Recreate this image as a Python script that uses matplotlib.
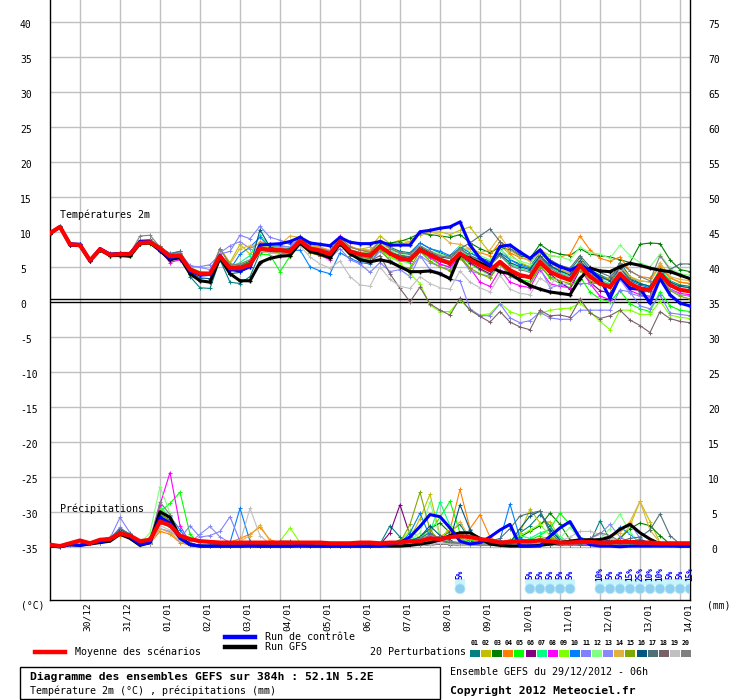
import numpy as np
import matplotlib
matplotlib.use('Agg')
import matplotlib.pyplot as plt
from matplotlib.patches import Rectangle, Ellipse
from matplotlib.lines import Line2D
from matplotlib.transforms import blended_transform_factory

# ---------------- data ----------------
hours = np.arange(0, 385, 6)  # 29/12/2012 06h + 0..384h

date_labels = ["30/12", "31/12", "01/01", "02/01", "03/01", "04/01", "05/01", "06/01",
               "07/01", "08/01", "09/01", "10/01", "11/01", "12/01", "13/01", "14/01"]
left_ticks = [-35, -30, -25, -20, -15, -10, -5, 0, 5, 10, 15, 20, 25, 30, 35, 40]
right_ticks = [0, 5, 10, 15, 20, 25, 30, 35, 40, 45, 50, 55, 60, 65, 70, 75]

member_names = ["01", "02", "03", "04", "05", "06", "07", "08", "09", "10",
                "11", "12", "13", "14", "15", "16", "17", "18", "19", "20"]
member_colors = ["#008080", "#c0c000", "#008000", "#ff8000", "#00ff00", "#800080", "#00ff80",
                 "#ff00ff", "#80ff00", "#0080ff", "#8080ff", "#80ff80", "#8888f8", "#e0b040",
                 "#80a800", "#005880", "#507078", "#786068", "#c0c0c0", "#808080"]

# temperature 2m (deg C)
temp_mean = [9.8, 10.7, 8.2, 8.1, 5.9, 7.5, 6.7, 6.8, 6.8, 8.4, 8.5, 7.6, 6.5, 6.6,
             4.6, 4.0, 4.0, 6.5, 4.8, 4.8, 5.3, 7.6, 7.4, 7.4, 7.2, 8.7, 7.6, 7.3, 6.8, 8.6, 7.2, 6.8, 6.6,
             7.9, 6.9, 6.2, 6.0, 7.4, 6.7, 6.0, 5.5, 6.9, 6.0, 5.2, 4.5, 5.7, 4.5, 3.8, 3.5,
             5.7, 4.3, 3.6, 3.1, 5.2, 3.6, 2.6, 2.1, 4.0, 2.6, 1.9, 1.7, 4.0, 2.4, 1.7, 1.5]
temp_control = [9.8, 10.7, 8.3, 8.2, 5.9, 7.6, 6.8, 6.9, 6.9, 8.6, 8.6, 7.4, 6.3, 6.5,
                4.4, 3.8, 3.9, 6.6, 4.6, 4.4, 5.0, 8.1, 8.2, 8.3, 8.6, 9.2, 8.4, 8.2, 8.0, 9.2, 8.5, 8.3, 8.3,
                8.6, 8.1, 8.1, 8.1, 10.0, 10.2, 10.5, 10.7, 11.4, 8.1, 6.2, 5.2, 7.9, 8.1, 7.1, 6.2,
                7.4, 5.7, 5.0, 4.5, 5.2, 4.5, 3.3, 0.5, 3.6, 1.9, 1.9, -0.2, 3.3, 1.0, -0.2, -0.6]
temp_gfs = [9.7, 10.7, 8.1, 8.0, 5.8, 7.4, 6.6, 6.6, 6.5, 8.3, 8.4, 7.3, 6.0, 6.3,
            4.0, 3.0, 2.8, 6.3, 4.0, 3.0, 3.0, 5.6, 6.2, 6.5, 6.6, 8.4, 7.2, 6.8, 6.3, 8.3, 6.9, 6.0, 5.7,
            6.0, 5.7, 5.0, 4.3, 4.3, 4.4, 4.0, 3.3, 6.7, 6.2, 5.5, 5.0, 4.3, 4.0, 3.1, 2.3,
            1.8, 1.4, 1.2, 1.0, 3.3, 4.8, 4.4, 4.3, 5.0, 5.5, 5.2, 4.8, 4.5, 4.3, 3.8, 3.3]

temp_p01 = [9.9, 10.8, 8.3, 8.0, 5.8, 7.6, 6.9, 7.0, 7.0, 8.6, 8.7, 7.5, 6.9, 7.2,
            3.6, 2.0, 1.9, 6.0, 2.8, 2.6, 3.6, 7.0, 7.4, 7.6, 7.5, 8.9, 7.8, 7.6, 7.0, 8.8, 7.8, 7.4, 7.2,
            8.6, 7.8, 7.2, 7.0, 8.4, 7.6, 7.0, 6.4, 7.8, 7.0, 6.3, 5.8, 7.0, 6.0, 5.4, 5.0,
            7.0, 5.6, 5.0, 4.5, 6.3, 4.6, 3.8, 3.2, 5.6, 3.6, 2.6, 2.2, 4.6, 3.0, 2.4, 2.2]
temp_p02 = [9.8, 10.7, 8.2, 8.2, 6.0, 7.6, 6.8, 6.9, 6.9, 8.6, 8.7, 7.8, 6.7, 6.9,
            4.9, 4.3, 4.2, 7.6, 5.6, 8.2, 6.8, 8.0, 7.9, 7.8, 7.6, 9.0, 8.0, 7.7, 7.3, 9.0, 7.8, 7.5, 7.8,
            9.4, 8.3, 8.8, 8.6, 9.6, 9.9, 10.0, 9.6, 10.2, 10.7, 8.8, 7.0, 8.0, 6.8, 5.6, 5.0,
            6.5, 5.0, 4.6, 4.2, 5.6, 4.2, 3.6, 3.2, 5.0, 3.6, 3.0, 2.8, 5.2, 3.4, 2.8, 2.6]
temp_p03 = [9.7, 10.6, 8.1, 8.1, 5.9, 7.4, 6.7, 6.8, 6.8, 8.2, 8.4, 7.6, 6.4, 6.6,
            4.7, 4.2, 4.1, 6.6, 5.0, 5.2, 5.8, 7.8, 7.6, 7.5, 7.4, 8.8, 7.7, 7.4, 6.9, 8.7, 7.4, 7.0, 6.9,
            8.3, 8.4, 8.6, 9.1, 9.8, 9.6, 9.4, 9.2, 9.6, 8.4, 7.6, 7.0, 7.8, 7.4, 6.6, 6.2,
            8.2, 7.2, 6.8, 6.6, 7.6, 6.8, 6.6, 6.4, 6.0, 5.6, 8.2, 8.4, 8.3, 6.0, 4.6, 4.3]
temp_p04 = [9.8, 10.7, 8.2, 8.1, 5.9, 7.5, 6.7, 6.8, 6.9, 8.5, 8.6, 7.7, 6.6, 6.7,
            4.5, 3.9, 3.8, 6.4, 4.7, 5.0, 5.4, 8.6, 8.2, 8.3, 8.7, 9.2, 8.2, 7.8, 7.2, 9.1, 7.9, 7.4, 7.2,
            8.4, 7.6, 7.0, 6.8, 7.8, 7.1, 6.6, 6.2, 7.4, 7.6, 7.0, 6.6, 8.6, 7.0, 6.3, 6.0,
            7.4, 6.6, 6.4, 6.8, 9.4, 7.4, 6.2, 5.8, 6.4, 4.4, 3.6, 3.4, 5.0, 3.4, 2.8, 2.6]
temp_p05 = [9.8, 10.7, 8.1, 8.0, 5.8, 7.4, 6.6, 6.7, 6.6, 8.2, 8.3, 7.3, 6.2, 6.4,
            4.4, 3.8, 3.8, 6.3, 4.6, 4.9, 5.6, 6.8, 6.7, 4.3, 6.5, 8.4, 7.2, 6.9, 6.2, 8.2, 6.6, 6.2, 6.0,
            7.6, 6.4, 5.8, 5.6, 7.2, 6.2, 5.3, 5.0, 6.4, 5.4, 4.6, 3.8, 5.4, 4.0, 3.2, 2.9,
            5.2, 3.4, 2.6, 2.0, 3.6, 1.4, 0.4, 0.0, 1.6, -0.3, -1.0, -1.4, 1.4, -0.6, -1.2, -1.4]
temp_p06 = [9.8, 10.7, 8.2, 8.1, 5.9, 7.5, 6.7, 6.8, 6.8, 8.4, 8.5, 7.6, 6.5, 6.6,
            4.5, 3.9, 3.9, 6.5, 4.7, 4.7, 5.2, 7.4, 7.2, 7.2, 7.0, 8.6, 7.3, 6.6, 6.2, 8.4, 6.8, 6.4, 6.2,
            7.6, 6.7, 6.0, 5.8, 7.3, 6.5, 5.8, 5.3, 6.6, 5.6, 4.7, 4.0, 5.5, 4.2, 3.6, 3.4,
            5.4, 4.0, 2.8, 1.8, 4.6, 2.8, 1.6, 1.2, 3.6, 1.8, 1.6, 1.4, 3.8, 2.4, 1.8, 1.6]
temp_p07 = [9.8, 10.7, 8.2, 8.1, 5.9, 7.5, 6.8, 6.9, 6.9, 8.5, 8.6, 7.6, 6.5, 6.6,
            4.6, 4.0, 4.1, 6.6, 5.0, 5.6, 6.6, 9.5, 8.0, 8.0, 7.8, 9.0, 7.8, 7.2, 6.8, 8.6, 7.2, 6.9, 6.6,
            8.0, 7.2, 6.6, 6.4, 7.6, 6.8, 6.2, 5.8, 7.4, 6.4, 5.8, 5.2, 6.6, 5.4, 4.8, 4.4,
            6.4, 5.0, 4.2, 3.6, 5.6, 4.0, 3.2, 2.6, 4.8, 3.2, 2.6, 2.2, 4.6, 3.0, 2.2, 2.0]
temp_p08 = [9.8, 10.7, 8.2, 8.0, 5.8, 7.4, 6.7, 6.7, 6.7, 8.4, 8.5, 7.3, 5.6, 6.0,
            4.4, 3.9, 3.9, 6.4, 4.6, 4.6, 5.0, 7.2, 7.0, 7.0, 6.8, 8.2, 7.0, 6.6, 6.0, 9.4, 7.2, 6.6, 6.5,
            8.2, 6.8, 6.0, 5.8, 7.6, 6.4, 5.4, 4.9, 6.4, 4.8, 2.8, 2.2, 4.6, 2.8, 2.3, 2.0,
            4.6, 2.6, 2.2, 2.0, 5.0, 2.6, 0.8, 0.3, 3.4, 1.6, 1.0, 0.8, 3.2, 1.8, 1.2, 1.0]
temp_p09 = [9.8, 10.6, 8.1, 8.0, 5.8, 7.4, 6.6, 6.7, 6.7, 8.3, 8.4, 7.5, 6.4, 6.5,
            4.6, 4.0, 4.0, 6.6, 4.9, 5.0, 5.4, 7.2, 7.0, 6.8, 6.6, 8.2, 7.0, 6.7, 6.4, 8.2, 6.8, 6.5, 6.4,
            7.8, 6.4, 5.6, 4.0, 2.6, -0.5, -1.4, -1.4, 0.3, -1.2, -1.9, -1.7, -0.2, -1.4, -1.9, -1.6,
            -1.7, -1.2, -1.0, -0.9, -0.2, -1.4, -2.8, -4.0, -1.2, -1.2, -1.8, -1.8, 0.1, -1.9, -2.2, -2.4]
temp_p10 = [9.8, 10.7, 8.2, 8.1, 5.9, 7.5, 6.7, 6.8, 6.8, 8.4, 8.5, 7.4, 6.4, 6.7,
            4.6, 4.0, 4.0, 6.5, 4.6, 6.8, 7.8, 9.2, 7.8, 7.8, 7.2, 7.4, 5.0, 4.4, 4.0, 7.0, 6.2, 5.6, 5.4,
            7.6, 7.4, 7.0, 6.8, 8.4, 7.6, 7.2, 6.6, 8.0, 7.0, 6.2, 5.6, 7.6, 6.0, 5.2, 4.8,
            6.4, 5.0, 4.4, 4.0, 5.4, 4.0, 3.4, 3.0, 4.6, 3.0, 2.4, 2.0, 4.2, 2.4, 1.8, 1.6]
temp_p11 = [9.8, 10.7, 8.2, 8.1, 6.0, 7.6, 6.8, 6.9, 6.9, 8.5, 8.6, 7.8, 6.9, 7.0,
            5.0, 5.0, 5.3, 6.8, 7.2, 9.5, 9.0, 10.8, 9.2, 8.8, 8.2, 8.8, 7.4, 6.8, 6.2, 7.6, 6.0, 5.4, 4.2,
            5.6, 4.3, 4.6, 3.6, 6.6, 4.6, 4.2, 3.2, 3.0, -1.0, -2.0, -2.0, -0.3, -2.3, -3.0, -2.7,
            -1.5, -2.3, -2.5, -2.5, -1.2, -1.2, -1.2, -1.2, 1.7, 1.4, -0.6, -1.0, 1.0, -1.6, -1.8, -2.0]
temp_p12 = [9.8, 10.7, 8.2, 8.1, 5.9, 7.5, 6.7, 6.8, 6.8, 8.4, 8.5, 7.6, 6.6, 6.7,
            4.7, 4.1, 4.1, 6.6, 4.9, 5.4, 6.0, 7.8, 7.6, 7.7, 7.6, 8.9, 7.8, 7.5, 7.0, 8.7, 7.4, 7.1, 7.0,
            8.4, 7.4, 6.8, 6.6, 8.0, 7.3, 6.8, 6.4, 8.0, 7.2, 6.6, 6.0, 7.4, 6.4, 5.8, 5.4,
            7.2, 6.6, 6.4, 6.0, 7.8, 7.0, 6.8, 6.2, 8.1, 6.6, 5.6, 5.0, 6.8, 4.8, 4.0, 3.8]
temp_p13 = [9.8, 10.7, 8.2, 8.1, 5.9, 7.6, 6.8, 6.9, 6.9, 8.5, 8.6, 7.7, 6.8, 6.9,
            5.2, 4.9, 4.6, 7.0, 8.0, 8.6, 7.6, 8.4, 8.2, 8.0, 7.8, 9.0, 7.6, 7.0, 6.6, 8.4, 7.0, 6.2, 5.6,
            7.2, 6.0, 5.0, 4.6, 6.6, 5.6, 5.0, 4.6, 6.4, 4.4, 4.0, 3.6, 5.4, 3.6, 3.0, 2.6,
            4.8, 2.0, 2.4, 2.6, 2.6, 2.6, 2.6, 2.6, 3.2, 1.2, 0.8, 0.6, 3.6, 1.8, 1.0, 0.8]
temp_p14 = [9.8, 10.7, 8.2, 8.1, 5.9, 7.5, 6.7, 6.9, 6.9, 8.7, 8.8, 7.9, 6.6, 6.7,
            4.6, 4.0, 4.0, 6.5, 5.4, 7.6, 8.0, 8.2, 8.0, 8.2, 9.4, 9.2, 8.0, 7.8, 7.4, 9.0, 7.8, 7.5, 7.4,
            8.6, 7.8, 8.2, 8.6, 9.8, 10.0, 9.6, 8.4, 8.2, 7.6, 7.0, 7.4, 9.4, 7.4, 6.4, 5.8,
            7.0, 5.6, 4.6, 4.0, 6.0, 4.2, 3.4, 3.0, 5.2, 3.4, 3.0, 2.8, 5.6, 3.6, 3.2, 3.0]
temp_p15 = [9.8, 10.7, 8.2, 8.1, 5.9, 7.5, 6.7, 6.8, 6.7, 8.4, 8.5, 7.5, 6.4, 6.6,
            4.5, 3.9, 3.8, 7.6, 5.4, 5.2, 5.6, 7.4, 7.2, 7.0, 6.8, 8.4, 7.0, 6.6, 6.3, 8.4, 6.8, 6.4, 6.2,
            7.6, 5.8, 5.0, 4.8, 7.2, 5.8, 5.0, 4.4, 6.2, 4.8, 4.0, 3.4, 5.4, 3.8, 3.0, 2.6,
            5.0, 3.6, 3.0, 2.6, 4.6, 3.0, 2.4, 2.0, 4.2, 2.4, 1.8, 1.4, 3.6, 1.6, 0.8, 0.4]
temp_p16 = [9.7, 10.6, 8.1, 8.0, 5.8, 7.4, 6.6, 6.7, 6.7, 8.3, 8.4, 7.4, 6.3, 6.5,
            4.2, 3.4, 3.3, 6.2, 4.0, 4.2, 5.0, 10.3, 7.8, 7.4, 7.6, 8.8, 7.6, 7.2, 6.8, 8.6, 7.2, 6.8, 6.6,
            8.0, 7.0, 6.6, 6.4, 7.8, 7.0, 6.4, 6.2, 7.6, 6.6, 6.0, 5.4, 6.8, 5.6, 5.0, 4.6,
            6.6, 5.2, 4.4, 3.8, 5.8, 4.4, 3.6, 3.0, 4.8, 3.2, 2.6, 2.2, 4.4, 2.8, 2.2, 2.0]
temp_p17 = [9.8, 10.7, 8.2, 8.2, 6.0, 7.6, 6.8, 7.0, 7.0, 8.8, 8.9, 7.9, 6.8, 7.2,
            4.8, 4.2, 4.1, 6.6, 5.0, 5.2, 5.6, 7.6, 7.4, 7.4, 7.2, 8.6, 7.4, 7.0, 6.6, 8.4, 7.0, 6.6, 6.4,
            7.8, 7.0, 6.6, 6.4, 7.6, 6.8, 6.4, 6.6, 7.6, 8.4, 9.4, 10.4, 8.6, 7.6, 6.8, 6.2,
            7.2, 6.0, 5.2, 4.8, 6.6, 5.0, 4.2, 3.6, 4.8, 3.2, 1.2, 1.6, 3.8, 4.6, 5.4, 5.4]
temp_p18 = [9.8, 10.7, 8.2, 8.1, 5.9, 7.5, 6.7, 6.8, 6.8, 8.4, 8.5, 7.6, 6.5, 6.6,
            4.5, 3.9, 3.9, 6.4, 4.7, 4.7, 5.2, 7.4, 7.2, 7.2, 7.0, 8.6, 7.2, 6.8, 6.4, 8.2, 6.6, 6.2, 5.8,
            6.6, 4.0, 1.9, 0.0, 2.1, -0.3, -1.2, -1.9, 0.5, -1.2, -2.1, -2.9, -1.4, -2.9, -3.6, -4.0,
            -1.2, -2.0, -1.9, -2.2, 0.4, -1.6, -2.4, -2.0, -1.2, -2.6, -3.4, -4.4, -1.4, -2.4, -2.8, -3.0]
temp_p19 = [9.8, 10.7, 8.2, 8.1, 5.9, 7.5, 6.8, 6.9, 6.9, 8.6, 8.7, 7.7, 6.5, 6.6,
            4.6, 4.0, 4.0, 6.5, 4.6, 4.6, 5.2, 7.2, 7.0, 6.8, 6.6, 8.0, 6.4, 5.4, 4.8, 5.8, 3.6, 2.4, 2.2,
            5.0, 3.2, 2.2, 1.9, 3.6, 2.6, 2.0, 1.8, 4.4, 2.8, 2.0, 1.4, 3.8, 1.8, 1.2, 1.0,
            3.4, 2.4, 3.8, 3.6, 4.8, 3.4, 2.6, 2.2, 4.6, 2.8, 2.0, 1.8, 4.2, 2.4, 1.8, 1.4]
temp_p20 = [9.8, 10.8, 8.3, 8.2, 6.0, 7.6, 6.8, 6.9, 6.9, 9.4, 9.5, 7.8, 6.6, 6.8,
            4.8, 4.2, 4.2, 7.6, 5.2, 5.4, 6.0, 7.6, 7.4, 7.4, 7.2, 9.4, 7.8, 7.6, 7.2, 9.2, 7.8, 7.4, 7.0,
            8.8, 7.6, 7.0, 6.8, 8.0, 7.2, 6.6, 6.2, 7.6, 6.6, 5.8, 5.2, 6.6, 5.2, 4.6, 4.2,
            6.2, 4.8, 4.0, 3.4, 5.6, 4.0, 3.0, 2.4, 5.6, 4.4, 3.6, 3.0, 6.6, 4.6, 3.8, 3.4]

# precipitation (mm per 6h)
prec_mean = [0.3, 0.1, 0.5, 0.9, 0.5, 1.0, 1.1, 1.9, 1.6, 0.8, 1.0, 3.6, 3.1, 1.6, 1.1, 0.8,
             0.7, 0.6, 0.6, 0.6, 0.6, 0.6, 0.6, 0.6, 0.6, 0.6, 0.6, 0.6, 0.5, 0.5, 0.5, 0.6, 0.6,
             0.5, 0.6, 0.6, 0.8, 0.8, 1.2, 1.1, 1.4, 1.5, 1.4, 1.1, 0.9, 0.6, 0.7, 0.8, 0.8,
             0.9, 0.8, 0.6, 0.6, 0.7, 0.7, 0.6, 0.6, 0.7, 0.7, 0.6, 0.6, 0.5, 0.5, 0.5, 0.5]
prec_control = [0.1, 0.0, 0.3, 0.2, 0.5, 0.7, 1.0, 2.0, 1.4, 0.3, 0.6, 4.2, 3.4, 1.2, 0.3, 0.1,
                0.1, 0.1, 0.1, 0.1, 0.2, 0.1, 0.1, 0.1, 0.1, 0.2, 0.1, 0.1, 0.1, 0.1, 0.1, 0.1, 0.1,
                0.1, 0.3, 0.6, 1.4, 2.9, 4.6, 4.3, 2.7, 0.8, 0.4, 0.6, 1.4, 2.4, 3.2, 0.1, 0.1,
                0.1, 1.5, 2.7, 3.6, 1.2, 0.3, 0.1, 0.1, 0.0, 0.1, 0.1, 0.1, 0.1, 0.1, 0.1, 0.1]
prec_gfs = [0.1, 0.0, 0.3, 0.2, 0.4, 0.6, 0.8, 1.8, 1.2, 0.2, 0.6, 5.0, 4.2, 1.4, 0.3, 0.1,
            0.1, 0.1, 0.1, 0.1, 0.1, 0.1, 0.1, 0.1, 0.1, 0.1, 0.1, 0.1, 0.1, 0.1, 0.1, 0.1, 0.1,
            0.1, 0.1, 0.1, 0.2, 0.4, 0.6, 1.0, 1.6, 2.0, 2.0, 1.2, 0.4, 0.2, 0.1, 0.1, 0.1,
            0.2, 0.4, 0.6, 0.8, 1.0, 1.0, 1.0, 1.4, 2.5, 3.2, 2.0, 1.1, 0.4, 0.2, 0.1, 0.1]

prec_p01 = [0.1, 0.0, 0.5, 0.2, 0.6, 0.8, 1.2, 2.6, 1.8, 0.3, 0.4, 4.0, 3.2, 1.2, 0.3, 0.1,
            0.1, 0.2, 0.1, 0.1, 0.3, 0.1, 0.2, 0.2, 0.1, 0.2, 0.1, 0.1, 0.2, 0.1, 0.1, 0.2, 0.2,
            0.4, 3.0, 1.4, 0.2, 0.4, 0.6, 1.2, 2.2, 3.2, 1.0, 0.4, 0.2, 0.3, 0.6, 2.0, 3.0,
            4.6, 3.0, 1.0, 0.4, 0.6, 0.6, 3.7, 1.0, 0.4, 0.6, 0.2, 0.3, 0.2, 0.4, 0.1, 0.5]
prec_p02 = [0.1, 0.0, 0.4, 0.2, 0.5, 0.6, 0.9, 2.2, 1.4, 0.2, 0.6, 5.5, 4.0, 1.4, 0.4, 0.1,
            0.1, 0.1, 0.2, 0.1, 0.1, 0.4, 0.2, 0.1, 0.1, 0.3, 0.1, 0.1, 0.2, 0.2, 0.1, 0.1, 0.1,
            0.2, 0.3, 0.6, 1.2, 4.0, 7.5, 1.6, 0.4, 0.6, 1.2, 0.4, 0.2, 0.6, 0.8, 2.0, 5.4,
            3.4, 3.6, 1.2, 0.5, 0.6, 0.4, 0.2, 0.6, 1.2, 3.0, 6.5, 3.6, 0.6, 0.2, 0.3, 0.2]
prec_p03 = [0.1, 0.0, 0.4, 0.2, 0.6, 0.7, 1.1, 2.0, 1.3, 0.3, 0.8, 4.6, 3.8, 1.6, 0.4, 0.2,
            0.1, 0.1, 0.1, 0.2, 0.3, 0.1, 0.1, 0.2, 0.1, 0.1, 0.2, 0.1, 0.1, 0.2, 0.1, 0.1, 0.1,
            0.2, 0.4, 1.0, 0.5, 1.4, 2.6, 3.4, 2.0, 1.2, 0.8, 0.4, 0.2, 0.2, 0.6, 1.4, 2.2,
            3.0, 4.8, 3.2, 1.0, 0.6, 0.4, 0.2, 0.6, 1.2, 2.6, 3.4, 3.0, 1.6, 0.4, 0.2, 0.2]
prec_p04 = [0.1, 0.0, 0.3, 0.2, 0.6, 0.7, 1.0, 1.6, 1.2, 0.3, 0.5, 2.2, 1.8, 0.6, 0.2, 0.1,
            0.2, 0.4, 0.6, 1.2, 1.8, 2.8, 1.0, 0.6, 0.2, 0.1, 0.2, 0.1, 0.1, 0.2, 0.1, 0.1, 0.2,
            0.3, 0.2, 0.4, 0.8, 1.2, 1.0, 1.4, 2.4, 8.2, 2.6, 4.6, 1.4, 0.4, 0.3, 0.6, 0.4,
            0.8, 1.2, 0.8, 0.4, 0.6, 0.8, 0.6, 1.2, 0.8, 0.6, 1.0, 0.4, 0.2, 0.3, 0.2, 0.2]
prec_p05 = [0.1, 0.0, 0.4, 0.3, 0.6, 0.8, 1.2, 2.4, 1.6, 0.4, 1.4, 5.0, 6.2, 7.8, 1.8, 0.3,
            0.1, 0.1, 0.1, 0.2, 0.3, 0.3, 0.2, 0.1, 0.1, 0.2, 0.2, 0.1, 0.1, 0.1, 0.2, 0.1, 0.2,
            0.4, 0.6, 0.8, 0.6, 1.2, 2.2, 4.2, 6.5, 2.0, 1.0, 0.6, 0.3, 0.2, 0.4, 0.8, 1.0,
            1.6, 2.6, 4.8, 3.2, 1.4, 0.8, 0.6, 0.4, 0.4, 0.6, 0.5, 0.3, 0.2, 0.3, 0.2, 0.1]
prec_p06 = [0.1, 0.0, 0.4, 0.2, 0.5, 0.6, 0.9, 2.0, 1.4, 0.3, 0.4, 3.8, 3.0, 1.2, 0.3, 0.1,
            0.1, 0.1, 0.1, 0.1, 0.2, 0.1, 0.1, 0.2, 0.1, 0.1, 0.2, 0.1, 0.1, 0.1, 0.1, 0.2, 0.1,
            0.3, 2.0, 6.0, 1.6, 0.4, 0.6, 0.8, 0.6, 0.4, 0.3, 0.5, 0.2, 0.2, 0.3, 0.4, 0.3,
            0.4, 0.6, 0.5, 0.3, 0.4, 0.3, 0.4, 0.6, 0.5, 0.4, 0.4, 0.8, 0.6, 0.3, 0.2, 0.2]
prec_p07 = [0.1, 0.0, 0.5, 0.3, 0.6, 0.8, 1.1, 2.4, 1.6, 0.3, 0.8, 5.8, 4.2, 1.4, 0.3, 0.1,
            0.1, 0.2, 0.1, 0.1, 0.2, 0.1, 0.2, 0.1, 0.1, 0.2, 0.1, 0.1, 0.1, 0.1, 0.2, 0.1, 0.1,
            0.2, 0.3, 0.6, 1.0, 1.4, 2.0, 6.4, 3.0, 1.2, 0.6, 0.4, 0.3, 0.2, 0.8, 1.6, 1.2,
            2.0, 2.4, 1.4, 0.6, 0.4, 0.5, 0.4, 0.6, 0.8, 0.6, 0.4, 0.3, 0.6, 0.3, 0.2, 0.1]
prec_p08 = [0.1, 0.0, 0.3, 0.2, 0.6, 1.0, 1.4, 2.2, 1.4, 0.3, 0.6, 6.0, 10.6, 3.0, 0.6, 0.2,
            0.1, 0.1, 0.1, 0.2, 0.1, 0.1, 0.2, 0.1, 0.1, 0.1, 0.1, 0.2, 0.1, 0.1, 0.1, 0.1, 0.2,
            0.4, 0.3, 0.5, 0.8, 0.6, 1.8, 1.2, 0.6, 0.4, 0.2, 0.3, 0.2, 0.4, 0.3, 0.6, 0.5,
            0.4, 0.3, 0.5, 0.4, 0.3, 0.3, 0.5, 0.6, 0.4, 0.3, 0.2, 0.2, 0.3, 0.2, 0.3, 0.2]
prec_p09 = [0.1, 0.0, 0.4, 0.2, 0.6, 0.9, 1.0, 2.6, 1.8, 0.4, 0.6, 3.6, 3.0, 1.0, 0.3, 0.1,
            0.1, 0.2, 0.1, 0.1, 0.2, 0.2, 0.4, 0.8, 2.7, 0.6, 0.2, 0.1, 0.2, 0.1, 0.1, 0.1, 0.1,
            0.3, 0.4, 0.6, 2.4, 1.2, 0.6, 0.8, 3.0, 1.4, 0.6, 0.4, 0.3, 0.3, 0.6, 1.6, 2.4,
            3.2, 1.6, 0.8, 0.4, 0.6, 0.4, 0.3, 0.6, 0.5, 0.3, 0.4, 0.2, 0.4, 0.3, 0.2, 0.2]
prec_p10 = [0.1, 0.0, 0.4, 0.2, 0.5, 0.7, 1.0, 2.2, 1.5, 0.3, 0.4, 3.2, 4.4, 2.4, 0.6, 0.1,
            0.2, 0.3, 0.6, 5.5, 0.8, 0.2, 0.1, 0.2, 0.1, 0.1, 0.1, 0.2, 0.1, 0.1, 0.1, 0.1, 0.1,
            0.2, 0.3, 0.4, 2.0, 4.8, 1.4, 0.8, 0.6, 0.4, 0.3, 0.4, 0.6, 1.0, 6.1, 1.2, 0.6,
            0.4, 0.3, 0.5, 0.6, 0.4, 0.6, 0.8, 1.2, 2.8, 1.8, 0.6, 0.3, 0.2, 0.6, 0.2, 0.2]
prec_p11 = [0.1, 0.0, 0.4, 0.3, 0.6, 0.8, 1.2, 4.2, 2.0, 0.4, 0.5, 2.6, 2.2, 1.2, 3.0, 1.4,
            1.6, 2.2, 4.3, 0.8, 0.3, 0.2, 0.1, 0.1, 0.2, 0.3, 0.2, 0.1, 0.1, 0.2, 0.1, 0.1, 0.2,
            0.3, 0.2, 0.4, 0.6, 0.4, 0.3, 0.5, 0.4, 0.6, 0.2, 0.3, 0.2, 0.4, 0.3, 0.2, 0.3,
            0.2, 0.4, 0.3, 0.2, 0.3, 0.2, 0.3, 1.4, 2.4, 3.4, 1.2, 0.4, 0.3, 0.2, 0.2, 0.1]
prec_p12 = [0.1, 0.0, 0.4, 0.3, 0.6, 0.8, 1.3, 2.4, 1.7, 0.5, 2.0, 8.6, 4.8, 1.2, 0.3, 0.1,
            0.1, 0.1, 0.2, 0.1, 0.2, 0.1, 0.1, 0.2, 0.1, 0.1, 0.1, 0.2, 0.1, 0.1, 0.1, 0.1, 0.1,
            0.3, 0.4, 0.6, 1.0, 2.0, 6.4, 1.4, 0.6, 0.4, 0.5, 0.3, 0.3, 0.6, 0.4, 0.4, 0.4,
            0.6, 0.8, 1.2, 2.8, 1.0, 0.8, 1.2, 2.6, 4.7, 2.0, 0.6, 0.3, 0.2, 0.3, 0.2, 0.1]
prec_p13 = [0.1, 0.0, 0.4, 0.2, 0.5, 0.8, 1.0, 2.8, 1.6, 0.3, 0.6, 3.4, 3.0, 1.0, 0.6, 1.8,
            2.9, 1.4, 0.6, 0.2, 0.2, 0.1, 0.2, 0.1, 0.1, 0.1, 0.2, 0.1, 0.1, 0.1, 0.2, 0.1, 0.1,
            0.2, 0.3, 0.4, 0.3, 0.4, 0.6, 0.5, 0.3, 0.4, 0.3, 0.2, 0.2, 0.3, 0.4, 0.3, 0.2,
            0.2, 0.3, 0.4, 0.3, 0.6, 1.2, 1.8, 3.2, 1.4, 0.6, 0.4, 0.3, 0.2, 0.3, 0.2, 0.1]
prec_p14 = [0.1, 0.0, 0.3, 0.2, 0.5, 0.7, 1.0, 2.0, 1.3, 0.3, 0.4, 2.6, 2.0, 0.8, 0.2, 0.1,
            0.1, 0.2, 0.4, 0.8, 1.6, 3.1, 0.8, 0.3, 0.1, 0.2, 0.1, 0.1, 0.1, 0.1, 0.1, 0.1, 0.1,
            0.3, 0.4, 0.3, 0.6, 1.0, 1.4, 0.8, 1.8, 3.6, 1.2, 0.6, 0.4, 0.6, 1.0, 0.6, 0.4,
            0.4, 0.6, 0.8, 0.6, 0.4, 0.6, 0.8, 1.4, 2.0, 3.6, 6.5, 2.4, 0.6, 0.3, 0.2, 0.2]
prec_p15 = [0.1, 0.0, 0.4, 0.2, 0.6, 0.8, 1.2, 2.2, 1.5, 0.3, 0.6, 4.8, 3.6, 1.2, 0.3, 0.1,
            0.1, 0.1, 0.1, 0.2, 0.1, 0.1, 0.2, 0.1, 0.1, 0.2, 0.1, 0.1, 0.2, 0.1, 0.1, 0.2, 0.1,
            0.3, 0.4, 0.6, 3.2, 7.8, 2.4, 0.8, 0.6, 0.4, 0.3, 0.6, 0.4, 0.6, 1.0, 0.8, 0.6,
            1.2, 1.4, 0.8, 0.6, 0.4, 0.6, 0.4, 0.6, 0.8, 0.6, 0.6, 0.4, 0.3, 0.2, 0.2, 0.2]
prec_p16 = [0.1, 0.0, 0.4, 0.2, 0.6, 0.8, 1.2, 2.4, 1.8, 0.4, 0.7, 4.4, 3.4, 1.4, 0.4, 0.1,
            0.1, 0.1, 0.2, 0.1, 0.2, 0.3, 0.2, 0.1, 0.1, 0.1, 0.1, 0.2, 0.1, 0.1, 0.1, 0.1, 0.1,
            0.3, 0.4, 0.4, 0.8, 1.4, 3.0, 1.6, 1.0, 6.0, 2.4, 0.8, 0.4, 0.4, 0.6, 2.6, 4.4,
            5.1, 2.4, 1.0, 0.6, 0.4, 0.8, 1.2, 0.8, 0.6, 0.8, 1.0, 0.6, 0.4, 0.3, 0.2, 0.2]
prec_p17 = [0.1, 0.0, 0.4, 0.3, 0.6, 0.8, 1.2, 2.6, 1.8, 0.4, 0.6, 3.8, 3.0, 1.4, 0.4, 0.2,
            0.1, 0.1, 0.1, 0.2, 0.1, 0.1, 0.2, 0.8, 0.8, 0.6, 0.4, 0.1, 0.2, 0.1, 0.1, 0.2, 0.1,
            0.4, 0.3, 0.5, 0.6, 1.2, 2.0, 1.0, 0.6, 0.5, 0.4, 0.6, 0.8, 1.2, 2.6, 4.4, 4.8,
            5.1, 2.0, 0.8, 0.6, 0.4, 0.6, 0.8, 0.6, 0.8, 1.2, 1.4, 2.4, 4.7, 1.6, 0.4, 0.3]
prec_p18 = [0.1, 0.0, 0.4, 0.2, 0.5, 0.7, 1.0, 2.0, 1.4, 0.3, 0.5, 3.4, 2.8, 1.0, 0.3, 0.1,
            0.1, 0.1, 0.1, 0.1, 0.2, 0.1, 0.1, 0.1, 0.2, 0.1, 0.1, 0.1, 0.1, 0.2, 0.1, 0.1, 0.1,
            0.2, 0.3, 0.2, 0.4, 0.3, 0.2, 0.4, 0.3, 0.2, 0.3, 0.2, 0.3, 0.2, 0.2, 0.3, 0.2,
            0.2, 0.3, 0.2, 0.3, 0.2, 0.2, 0.3, 0.2, 0.3, 0.2, 0.3, 0.2, 0.2, 0.3, 0.2, 0.2]
prec_p19 = [0.1, 0.0, 0.4, 0.2, 0.5, 0.7, 1.0, 2.0, 1.4, 0.3, 0.6, 3.0, 2.4, 1.0, 0.3, 0.1,
            0.1, 0.1, 0.2, 0.6, 5.5, 1.6, 0.4, 0.2, 0.1, 0.2, 0.1, 0.1, 0.1, 0.2, 0.1, 0.1, 0.1,
            0.2, 0.3, 0.4, 0.6, 0.4, 0.3, 0.5, 0.4, 0.3, 0.2, 0.3, 0.2, 0.4, 0.3, 0.2, 0.3,
            0.4, 0.6, 0.8, 1.4, 2.2, 2.2, 1.8, 1.2, 0.8, 0.6, 0.4, 0.3, 0.2, 0.6, 0.4, 0.2]
prec_p20 = [0.1, 0.0, 0.4, 0.2, 0.6, 0.8, 1.2, 2.2, 1.6, 0.4, 1.0, 6.4, 4.6, 1.6, 0.4, 0.1,
            0.1, 0.1, 0.1, 0.1, 0.2, 0.1, 0.1, 0.1, 0.2, 0.1, 0.1, 0.1, 0.1, 0.1, 0.2, 0.1, 0.1,
            0.3, 0.4, 0.6, 0.8, 1.2, 1.6, 1.4, 0.8, 0.6, 0.4, 0.3, 0.2, 0.3, 0.4, 0.6, 0.4,
            0.4, 0.6, 0.4, 0.3, 0.8, 1.2, 2.0, 1.6, 0.8, 0.6, 0.4, 0.3, 0.2, 0.3, 0.2, 0.2]

temp_members = [temp_p01, temp_p02, temp_p03, temp_p04, temp_p05, temp_p06, temp_p07, temp_p08,
                temp_p09, temp_p10, temp_p11, temp_p12, temp_p13, temp_p14, temp_p15, temp_p16,
                temp_p17, temp_p18, temp_p19, temp_p20]
prec_members = [prec_p01, prec_p02, prec_p03, prec_p04, prec_p05, prec_p06, prec_p07, prec_p08,
                prec_p09, prec_p10, prec_p11, prec_p12, prec_p13, prec_p14, prec_p15, prec_p16,
                prec_p17, prec_p18, prec_p19, prec_p20]

# snow probability labels
snow_hours = [246, 288, 294, 300, 306, 312, 330, 336, 342, 348, 354, 360, 366, 372, 378, 384]
snow_pct = [5, 5, 5, 5, 5, 5, 10, 5, 5, 15, 25, 10, 10, 5, 5, 15]

PREC_OFFSET = -35  # precipitation 0 mm drawn on the -35 line

# ---------------- figure ----------------
plt.rcParams['font.family'] = ['DejaVu Sans Mono', 'DejaVu Sans']
W, H = 740, 700
fig = plt.figure(figsize=(W / 100, H / 100), dpi=100)
fig.patch.set_facecolor('white')
ax = fig.add_axes([50 / W, 1 - 600 / H, 640 / W, 600 / H])
ax.set_xlim(0, 384)
ax.set_ylim(-42.6, 43.1)
ax.set_xticks([])
ax.set_yticks([])
for s in ['left', 'right', 'bottom']:
    ax.spines[s].set_color('black')
    ax.spines[s].set_linewidth(1.0)
ax.spines['top'].set_visible(False)

gridc = '#c0c0c0'
for v in left_ticks:
    if v != 0:
        ax.axhline(v, color=gridc, lw=1.0, zorder=0)
for k in range(len(date_labels)):
    ax.axvline(18 + 24 * k, color=gridc, lw=1.0, zorder=0)
ax.axhline(0.0, color='black', lw=1.0, zorder=1)
ax.axhline(0.42, color='black', lw=1.0, zorder=1)

def hx(n):
    return hours[:n]

# perturbations
for vals, c in zip(temp_members, member_colors):
    ax.plot(hx(len(vals)), vals, color=c, lw=0.8, marker='+', ms=3, mew=0.7, zorder=2)
for vals, c in zip(prec_members, member_colors):
    pv = np.array(vals) + PREC_OFFSET
    ax.plot(hx(len(pv)), pv, color=c, lw=0.8, marker='+', ms=3, mew=0.7, zorder=2)

# GFS run
ax.plot(hx(len(temp_gfs)), temp_gfs, color='black', lw=2.2, marker='+', ms=3, zorder=3)
ax.plot(hx(len(prec_gfs)), np.array(prec_gfs) + PREC_OFFSET, color='black', lw=2.2, zorder=3)
# control run
ax.plot(hx(len(temp_control)), temp_control, color='#0000ff', lw=2.2, marker='+', ms=3, zorder=4)
ax.plot(hx(len(prec_control)), np.array(prec_control) + PREC_OFFSET, color='#0000ff', lw=2.2, zorder=4)
# mean
ax.plot(hx(len(temp_mean)), temp_mean, color='#ff0000', lw=3.0, zorder=5, solid_joinstyle='round')
ax.plot(hx(len(prec_mean)), np.array(prec_mean) + PREC_OFFSET, color='#ff0000', lw=3.0, zorder=5,
        solid_joinstyle='round')

# in-plot titles
ax.text(6, 12.4, "Températures 2m", fontsize=7.2, ha='left', va='center', zorder=6)
ax.text(6, -29.6, "Précipitations", fontsize=7.2, ha='left', va='center', zorder=6)

# snow probabilities
for h, p in zip(snow_hours, snow_pct):
    ax.add_patch(Rectangle((h - 3, -40.4), 6, 0.75, facecolor='#c8f4fc', edgecolor='none', zorder=5.5))
    ax.text(h, -38.9, f"{p}%", rotation=90, color='#0000ff', fontsize=5.5, ha='center', va='center',
            fontweight='bold', zorder=6)
    ax.add_patch(Ellipse((h, -41.0), 6.0, 1.4, facecolor='#8ccfee', edgecolor='#b8e6f8', lw=0.6, zorder=6))

# axis tick labels
trY = blended_transform_factory(fig.transFigure, ax.transData)
for v in left_ticks:
    ax.text(20 / W, v - 0.45, str(v), transform=trY, ha='left', va='center', fontsize=7)
for v, r in zip(left_ticks, right_ticks):
    ax.text(714 / W, v - 0.45, str(r), transform=trY, ha='center', va='center', fontsize=7)

trX = blended_transform_factory(ax.transData, fig.transFigure)
for k, lab in enumerate(date_labels):
    ax.text(18 + 24 * k + 4.4, 1 - 602 / H, lab, transform=trX, rotation=90, ha='center', va='top',
            fontsize=6.8)

fig.text(21 / W, 1 - 606 / H, "(°C)", fontsize=7, ha='left', va='center')
fig.text(707 / W, 1 - 606 / H, "(mm)", fontsize=7, ha='left', va='center')

# legend
def fy(py):
    return 1 - py / H

fig.add_artist(Line2D([225 / W, 255 / W], [fy(637), fy(637)], color='#0000ff', lw=3.2))
fig.text(265 / W, fy(637), "Run de contrôle", fontsize=7.2, ha='left', va='center')
fig.add_artist(Line2D([225 / W, 255 / W], [fy(647), fy(647)], color='black', lw=3.2))
fig.text(265 / W, fy(647), "Run GFS", fontsize=7.2, ha='left', va='center')
fig.add_artist(Line2D([35 / W, 65 / W], [fy(652), fy(652)], color='#ff0000', lw=3.2))
fig.text(75 / W, fy(652), "Moyenne des scénarios", fontsize=7.2, ha='left', va='center')
fig.text(370 / W, fy(652), "20 Perturbations", fontsize=7.2, ha='left', va='center')
for k, (nm, c) in enumerate(zip(member_names, member_colors)):
    x0 = 470 + 11.1 * k
    fig.add_artist(Rectangle((x0 / W, fy(657)), 10 / W, 7 / H, facecolor=c, edgecolor='none',
                             transform=fig.transFigure))
    fig.text((x0 + 5) / W, fy(643), nm, fontsize=4.8, ha='center', va='center', fontweight='bold')

fig.add_artist(Rectangle((20 / W, fy(699)), 420 / W, 32 / H, fill=False, edgecolor='black', lw=1.0,
                         transform=fig.transFigure))
fig.text(30 / W, fy(677), "Diagramme des ensembles GEFS sur 384h : 52.1N 5.2E", fontsize=8.2,
         fontweight='bold', ha='left', va='center')
fig.text(30 / W, fy(691), "Température 2m (°C) , précipitations (mm)", fontsize=7.2, ha='left', va='center')
fig.text(450 / W, fy(672), "Ensemble GEFS du 29/12/2012 - 06h", fontsize=7.2, ha='left', va='center')
fig.text(450 / W, fy(691), "Copyright 2012 Meteociel.fr", fontsize=8.2, fontweight='bold',
         ha='left', va='center')

fig.savefig('out.png', dpi=100)
